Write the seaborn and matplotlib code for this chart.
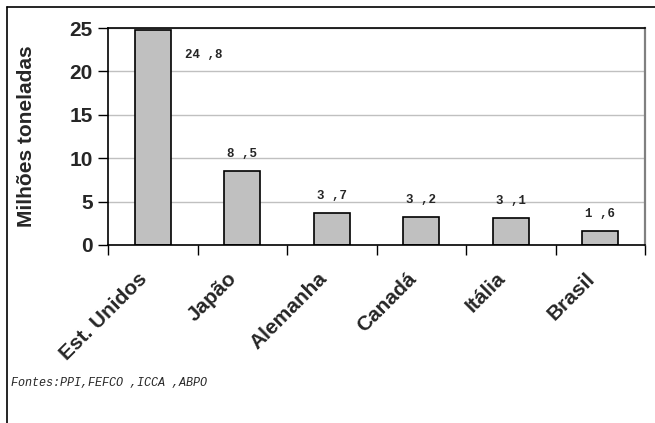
import matplotlib
matplotlib.use("Agg")
import matplotlib.pyplot as plt
import matplotlib.transforms as mtransforms
from matplotlib.lines import Line2D
import numpy as np
import pandas as pd
import seaborn as sns

# Produção de papel por país (milhões de toneladas)
paises = ["Est. Unidos", "Japão", "Alemanha", "Canadá", "Itália", "Brasil"]
producao = [24.8, 8.5, 3.7, 3.2, 3.1, 1.6]
rotulos = ["24 ,8", "8 ,5", "3 ,7", "3 ,2", "3 ,1", "1 ,6"]
marcas_y = [0, 5, 10, 15, 20, 25]
titulo_y = "Milhões toneladas"
fonte = "Fontes:PPI,FEFCO ,ICCA ,ABPO"

sns.set_theme(style="white")
plt.rcParams["font.family"] = ["Liberation Sans", "DejaVu Sans"]

W, H = 655, 423
fig = plt.figure(figsize=(W / 100, H / 100), dpi=100)
fig.patch.set_facecolor("white")
ax = fig.add_axes([108 / W, 1 - 245 / H, (645 - 108) / W, (245 - 28) / H])

df = pd.DataFrame({"pais": paises, "producao": producao})
sns.barplot(data=df, x="pais", y="producao", color="#c0c0c0", saturation=1,
            edgecolor="black", linewidth=1.2, width=0.4, ax=ax)

ax.set_xlim(-0.5, len(paises) - 0.5)
ax.set_ylim(marcas_y[0], marcas_y[-1])
ax.set_yticks(marcas_y)
ax.set_yticklabels([str(v) for v in marcas_y], fontweight="bold", fontsize=15)
ax.yaxis.grid(True, color="#c0c0c0", linewidth=1)
ax.set_axisbelow(True)

# category separators as tick marks below the axis
ax.set_xticks(np.arange(-0.5, len(paises), 1), minor=True)
ax.tick_params(axis="x", which="minor", bottom=True, length=7, width=1,
               color="black", direction="out")
ax.set_xticks(range(len(paises)))
ax.set_xticklabels(paises, rotation=45, ha="right", va="center",
                   rotation_mode="anchor", fontweight="bold", fontsize=15)
ax.tick_params(axis="x", which="major", length=0, pad=22)
shift = mtransforms.ScaledTranslation(-8 / 100, 0, fig.dpi_scale_trans)
for lbl in ax.get_xticklabels():
    lbl.set_transform(lbl.get_transform() + shift)
ax.tick_params(axis="y", left=True, length=7, width=1, color="black",
               direction="out", pad=4)

ax.set_xlabel("")
ax.set_ylabel(titulo_y, fontweight="bold", fontsize=15)
ax.yaxis.set_label_coords(-0.135, 0.5)

for side in ("left", "bottom", "top"):
    ax.spines[side].set_color("black")
    ax.spines[side].set_linewidth(1.2)
ax.spines["right"].set_color("#808080")
ax.spines["right"].set_linewidth(1.6)

# value labels
topo = marcas_y[-1]
for i, (v, r) in enumerate(zip(producao, rotulos)):
    if v > 0.9 * topo:
        off = (51, -25)
    else:
        off = (0, 17)
    ax.annotate(r, (i, v), xytext=off, textcoords="offset pixels",
                ha="center", va="center", fontsize=9, fontweight="bold",
                family="Liberation Mono")

# outer frame
fig.add_artist(Line2D([7 / W, 7 / W], [0, 1 - 7 / H], color="black",
                      linewidth=1.2, transform=fig.transFigure))
fig.add_artist(Line2D([7 / W, 1], [1 - 7 / H, 1 - 7 / H], color="black",
                      linewidth=1.2, transform=fig.transFigure))

fig.text(11 / W, 1 - 383 / H, fonte, family="Liberation Mono", style="italic",
         fontsize=8.5, va="center", ha="left")

fig.savefig("out.png", dpi=100)
